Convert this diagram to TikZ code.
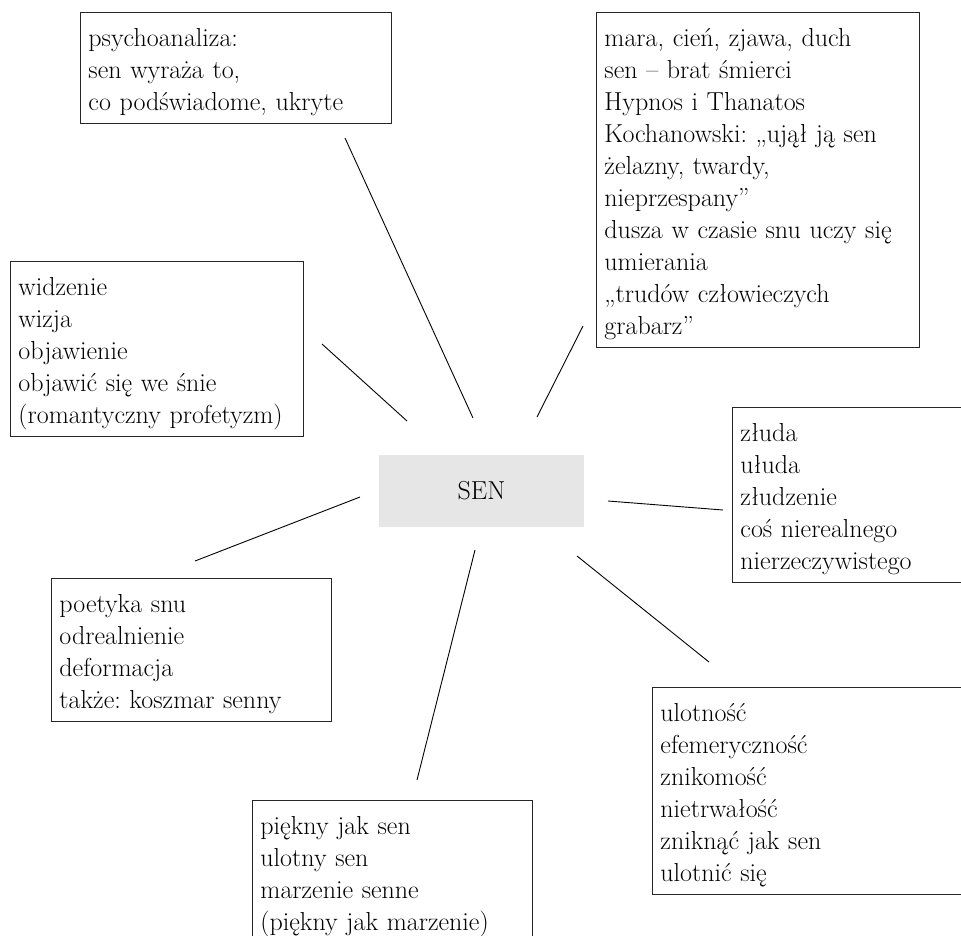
\documentclass[tikz,border=0pt]{standalone}
\usepackage{fontspec}
\usepackage{tikz}
\usetikzlibrary{positioning}
\definecolor{sengray}{HTML}{E6E6E6}
\frenchspacing

\begin{document}
\begin{tikzpicture}[
    x=1pt, y=-1pt,
    assoc/.style={rectangle, draw=black!85, line width=0.9pt, anchor=north west, align=left, inner xsep=8pt, inner ysep=0pt, font=\fontsize{26}{32}\selectfont, execute at begin node={\rule{0pt}{34pt}}, execute at end node={\rule[-13pt]{0pt}{13pt}}},
    core/.style={rectangle, fill=sengray, minimum width=205pt, minimum height=72pt, font=\fontsize{26}{32}\selectfont},
    link/.style={line width=0.9pt}
]
\useasboundingbox (0,0) rectangle (961,935);
\clip (0,0) rectangle (961,935);

% Centre
\node[core] (sen) at (481.5,491) {SEN};

% Boxes
\node[assoc, text width=295pt] (psycho) at (80,12) {psychoanaliza:\\sen wyraża to,\\co podświadome, ukryte};
\node[assoc, text width=277pt] (widzenie) at (10,261) {widzenie\\wizja\\objawienie\\objawić się we śnie\\(romantyczny profetyzm)};
\node[assoc, text width=307pt] (mara) at (596,12) {mara, cień, zjawa, duch\\sen – brat śmierci\\Hypnos i Thanatos\\Kochanowski: „ujął ją sen\\żelazny, twardy,\\nieprzespany”\\dusza w czasie snu uczy się\\umierania\\„trudów człowieczych\\grabarz”};
\node[assoc, text width=280pt] (zluda) at (732,407) {złuda\\ułuda\\złudzenie\\coś nierealnego\\nierzeczywistego};
\node[assoc, text width=264pt] (poetyka) at (51,578) {poetyka snu\\odrealnienie\\deformacja\\także: koszmar senny};
\node[assoc, text width=264pt] (piekny) at (252,800) {piękny jak sen\\ulotny sen\\marzenie senne\\(piękny jak marzenie)};
\node[assoc, text width=360pt] (ulotnosc) at (652,687) {ulotność\\efemeryczność\\znikomość\\nietrwałość\\zniknąć jak sen\\ulotnić się};

% Connector ends
\coordinate (psycho-a) at (473,418);
\coordinate (psycho-b) at (345,138);
\coordinate (widzenie-a) at (407,421);
\coordinate (widzenie-b) at (322,344);
\coordinate (mara-a) at (537,417);
\coordinate (mara-b) at (583,326);
\coordinate (zluda-a) at (608,501);
\coordinate (zluda-b) at (723,510);
\coordinate (poetyka-a) at (360,497);
\coordinate (poetyka-b) at (195,561);
\coordinate (piekny-a) at (475,550);
\coordinate (piekny-b) at (417,780);
\coordinate (ulotnosc-a) at (577,556);
\coordinate (ulotnosc-b) at (709,662);

% Connectors
\draw[link] (psycho-a) -- (psycho-b);
\draw[link] (widzenie-a) -- (widzenie-b);
\draw[link] (mara-a) -- (mara-b);
\draw[link] (zluda-a) -- (zluda-b);
\draw[link] (poetyka-a) -- (poetyka-b);
\draw[link] (piekny-a) -- (piekny-b);
\draw[link] (ulotnosc-a) -- (ulotnosc-b);

\end{tikzpicture}
\end{document}
